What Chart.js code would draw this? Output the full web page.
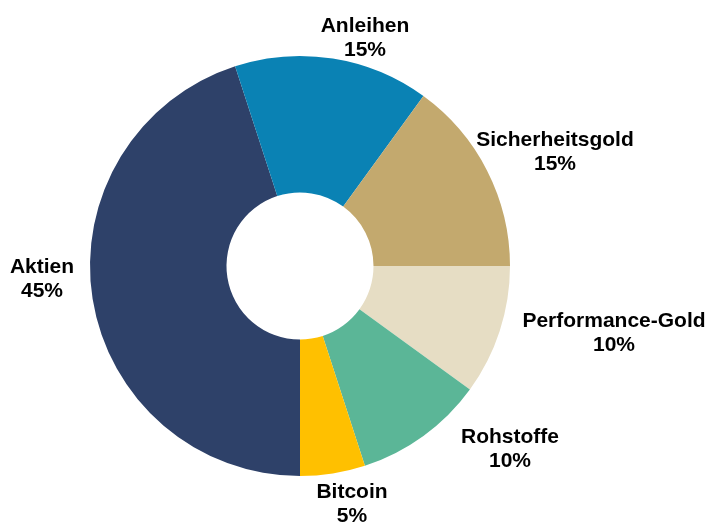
<!DOCTYPE html>
<html>
<head>
<meta charset="utf-8">
<script src="https://cdn.jsdelivr.net/npm/chart.js@4/dist/chart.umd.min.js"></script>
<style>
  html, body { margin: 0; padding: 0; background: #fff; }
  #wrap { width: 710px; height: 523px; }
</style>
</head>
<body>
<div id="wrap"><canvas id="allocChart" width="710" height="523"></canvas></div>
<script>
const categories = ['Aktien', 'Anleihen', 'Sicherheitsgold', 'Performance-Gold', 'Rohstoffe', 'Bitcoin'];
const shares = [45, 15, 15, 10, 10, 5];
const shareLabels = ['45%', '15%', '15%', '10%', '10%', '5%'];

const sliceColors = ['#2E4169', '#0A82B4', '#C3A96E', '#E6DDC4', '#5BB697', '#FFC000'];

// label block placement relative to the ring centre (first-line baseline)
const labelOffsets = [
  [-258, 6.5],
  [65, -234.5],
  [255, -120],
  [314, 61],
  [210, 177],
  [52, 232]
];

const outsideLabels = {
  id: 'outsideLabels',
  afterDatasetsDraw(chart) {
    const ctx = chart.ctx;
    const meta = chart.getDatasetMeta(0);
    const cx = meta.data[0].x;
    const cy = meta.data[0].y;
    ctx.save();
    ctx.fillStyle = '#000';
    ctx.font = 'bold 21px "Liberation Sans", Arial, sans-serif';
    ctx.textAlign = 'center';
    ctx.textBaseline = 'alphabetic';
    categories.forEach((name, i) => {
      const x = cx + labelOffsets[i][0];
      const y = cy + labelOffsets[i][1];
      ctx.fillText(name, x, y);
      ctx.fillText(shareLabels[i], x, y + 24);
    });
    ctx.restore();
  }
};

const ctx = document.getElementById('allocChart').getContext('2d');
const allocChart = new Chart(ctx, {
  type: 'doughnut',
  data: {
    labels: categories,
    datasets: [{
      data: shares,
      backgroundColor: sliceColors,
      borderWidth: 0,
      hoverOffset: 0
    }]
  },
  options: {
    responsive: false,
    animation: false,
    rotation: 180,
    cutout: '35%',
    layout: {
      padding: { left: 90, right: 200, top: 56, bottom: 47 }
    },
    plugins: {
      legend: { display: false },
      tooltip: { enabled: false }
    }
  },
  plugins: [outsideLabels]
});
</script>
</body>
</html>
